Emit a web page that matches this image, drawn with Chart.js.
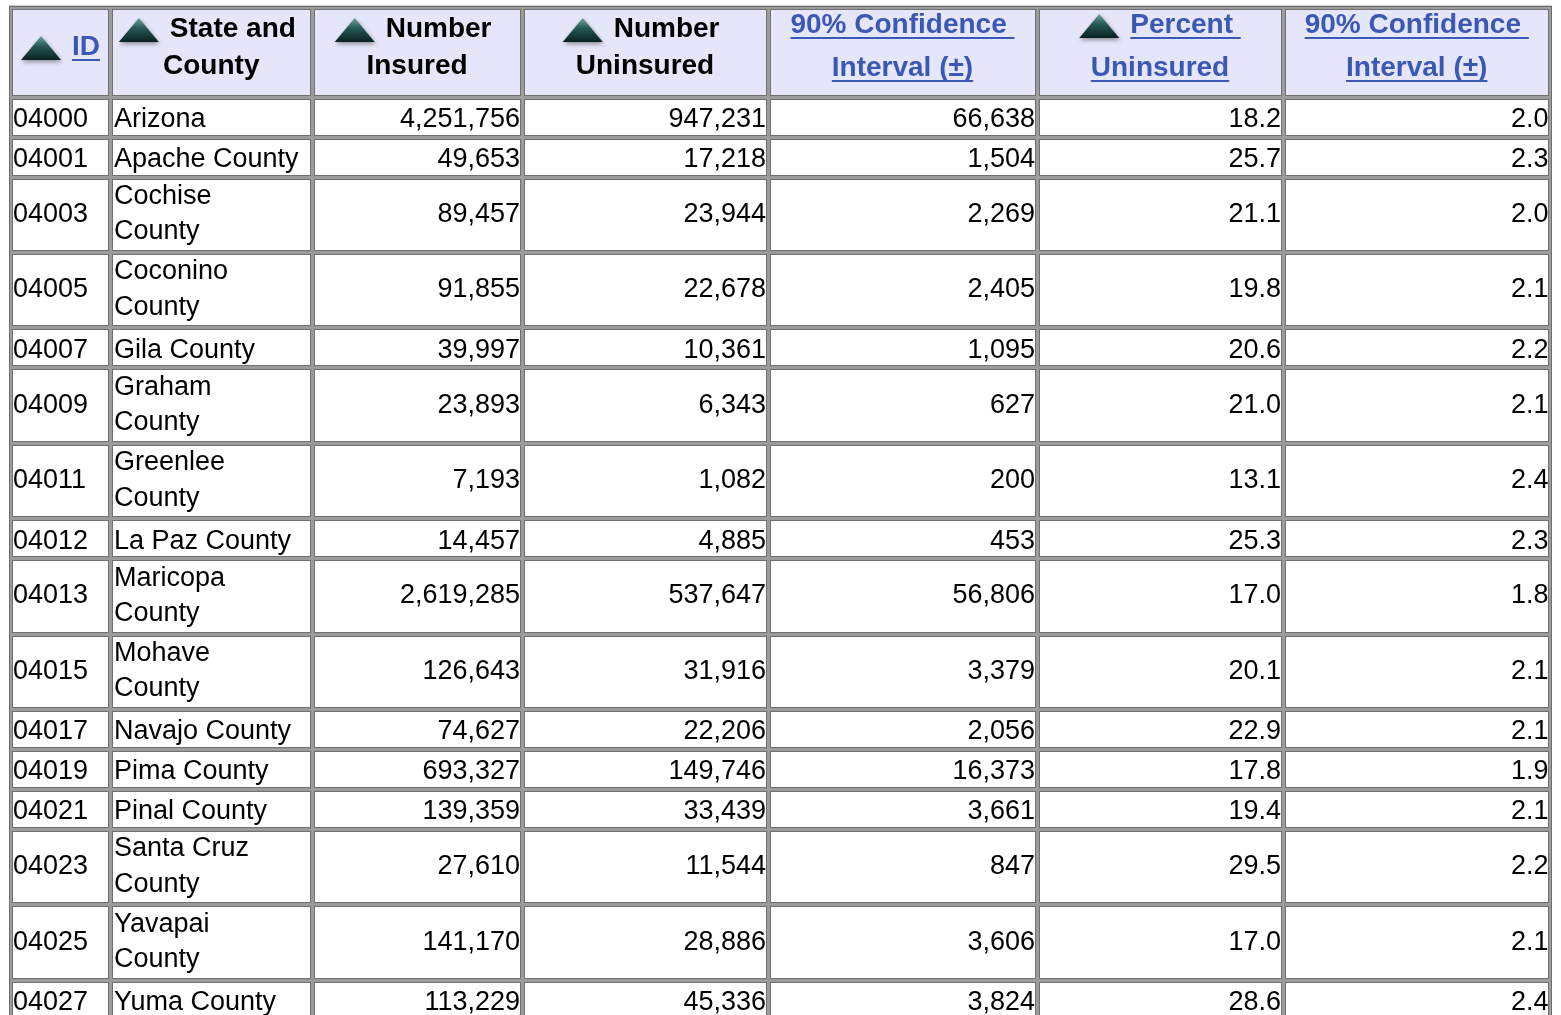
<!doctype html>
<html>
<head>
<meta charset="utf-8">
<title>Arizona - insured / uninsured by county</title>
<script src="https://cdn.jsdelivr.net/npm/chart.js"></script>
<style>
  html, body { margin: 0; padding: 0; background: #fff; }
  canvas { display: block; }
</style>
</head>
<body>
<canvas id="tbl" width="1561" height="1015"></canvas>
<script>
const ids = ['04000', '04001', '04003', '04005', '04007', '04009', '04011', '04012',
             '04013', '04015', '04017', '04019', '04021', '04023', '04025', '04027'];
const names = ['Arizona', 'Apache County', 'Cochise County', 'Coconino County', 'Gila County',
               'Graham County', 'Greenlee County', 'La Paz County', 'Maricopa County',
               'Mohave County', 'Navajo County', 'Pima County', 'Pinal County',
               'Santa Cruz County', 'Yavapai County', 'Yuma County'];
const numInsured = [4251756, 49653, 89457, 91855, 39997, 23893, 7193, 14457,
                    2619285, 126643, 74627, 693327, 139359, 27610, 141170, 113229];
const numUninsured = [947231, 17218, 23944, 22678, 10361, 6343, 1082, 4885,
                      537647, 31916, 22206, 149746, 33439, 11544, 28886, 45336];
const numUninsuredCI = [66638, 1504, 2269, 2405, 1095, 627, 200, 453,
                        56806, 3379, 2056, 16373, 3661, 847, 3606, 3824];
const pctUninsured = [18.2, 25.7, 21.1, 19.8, 20.6, 21.0, 13.1, 25.3,
                      17.0, 20.1, 22.9, 17.8, 19.4, 29.5, 17.0, 28.6];
const pctUninsuredCI = [2.0, 2.3, 2.0, 2.1, 2.2, 2.1, 2.4, 2.3,
                        1.8, 2.1, 2.1, 1.9, 2.1, 2.2, 2.1, 2.4];

// header text: line 1 / line 2, whether it has the sort arrow, whether it is a link
const headerLines = [
  ['ID'],
  ['State and ', 'County'],
  ['Number ', 'Insured'],
  ['Number ', 'Uninsured'],
  ['90% Confidence ', 'Interval (\u00b1)'],
  ['Percent ', 'Uninsured'],
  ['90% Confidence ', 'Interval (\u00b1)']
];
const headerArrow = [true, true, true, true, false, true, false];
const headerLink = [true, false, false, false, true, true, true];

// ---- layout ----
const W = 1561, H = 1015;
const colEdges = [10.5, 110.5, 312, 522, 768, 1037, 1283, 1550.5];
const headTop = 7, headBottom = 97;
const lineH = 35.4, rowPad = 4.6;
const nameWrap = 187;
const bodyFont = '27px "Liberation Sans", Arial, sans-serif';
const headFont = 'bold 28px "Liberation Sans", Arial, sans-serif';
const linkBlue = '#3a58b4';
const headBg = '#e6e6fa';

function fmtInt(v) { return v.toLocaleString('en-US'); }

function wrapText(ctx, text, maxW) {
  const words = text.split(' ');
  const lines = [];
  let cur = '';
  words.forEach(w => {
    const t = cur ? cur + ' ' + w : w;
    if (cur && ctx.measureText(t).width > maxW) { lines.push(cur); cur = w; }
    else cur = t;
  });
  if (cur) lines.push(cur);
  return lines;
}

// the little sort arrow (dark teal, soft shadow)
function drawArrow(ctx, x, base) {
  ctx.save();
  const g = ctx.createLinearGradient(0, base - 19, 0, base + 6);
  g.addColorStop(0, '#6fa39b');
  g.addColorStop(0.4, '#265a56');
  g.addColorStop(1, '#071d1d');
  ctx.shadowColor = 'rgba(0,0,0,0.4)';
  ctx.shadowBlur = 4;
  ctx.shadowOffsetX = 1;
  ctx.shadowOffsetY = 2;
  ctx.fillStyle = g;
  ctx.beginPath();
  ctx.moveTo(x + 20, base - 19);
  ctx.lineTo(x + 40, base + 5);
  ctx.lineTo(x + 0, base + 5);
  ctx.closePath();
  ctx.fill();
  ctx.restore();
}

const tablePlugin = {
  id: 'tableCells',
  afterDraw(chart) {
    const ctx = chart.ctx;
    const X = v => chart.scales.x.getPixelForValue(v);
    const Y = v => chart.scales.y.getPixelForValue(v);

    // wrap names, build row edges
    ctx.font = bodyFont;
    const nameLines = names.map(n => wrapText(ctx, n, nameWrap));
    const rowEdges = [headTop, headBottom];
    nameLines.forEach(l => rowEdges.push(rowEdges[rowEdges.length - 1] + rowPad + l.length * lineH));

    const x0 = X(colEdges[0]), x1 = X(colEdges[colEdges.length - 1]);
    const y0 = Y(rowEdges[0]), y1 = Y(rowEdges[rowEdges.length - 1]);

    // table frame / cell spacing
    ctx.fillStyle = '#9c9c9c';
    ctx.fillRect(x0 - 1.5, y0 - 1.5, x1 - x0 + 3, y1 - y0 + 3);
    ctx.strokeStyle = '#6e6e6e';
    ctx.lineWidth = 1;
    ctx.strokeRect(Math.round(x0 - 1.5) + 0.5, Math.round(y0 - 1.5) + 0.5,
                   Math.round(x1 - x0 + 2), Math.round(y1 - y0 + 2));

    // cells
    for (let r = 0; r < rowEdges.length - 1; r++) {
      for (let c = 0; c < colEdges.length - 1; c++) {
        const cx1 = Math.round(X(colEdges[c]) + 1.5), cx2 = Math.round(X(colEdges[c + 1]) - 1.5);
        const cy1 = Math.round(Y(rowEdges[r]) + 1.5), cy2 = Math.round(Y(rowEdges[r + 1]) - 1.5);
        ctx.fillStyle = r === 0 ? headBg : '#ffffff';
        ctx.fillRect(cx1, cy1, cx2 - cx1, cy2 - cy1);
        ctx.strokeStyle = '#707070';
        ctx.strokeRect(cx1 + 0.5, cy1 + 0.5, cx2 - cx1 - 1, cy2 - cy1 - 1);
      }
    }

    // header text
    ctx.font = headFont;
    ctx.textBaseline = 'alphabetic';
    ctx.textAlign = 'left';
    headerLines.forEach((lines, c) => {
      const mid = (X(colEdges[c]) + X(colEdges[c + 1])) / 2;
      const link = headerLink[c];
      let bases;
      if (lines.length === 1) bases = [headTop + 48];
      else if (link) bases = [headTop + 26, headTop + 69];
      else bases = [headTop + 30, headTop + 67];
      lines.forEach((txt, i) => {
        const arrow = i === 0 && headerArrow[c];
        const tw = ctx.measureText(txt).width;
        const total = tw + (arrow ? 51 : 0);
        let x = mid - total / 2;
        const b = Y(bases[i]);
        if (arrow) { drawArrow(ctx, x, b); x += 51; }
        ctx.fillStyle = link ? linkBlue : '#000000';
        ctx.fillText(txt, x, b);
        if (link) ctx.fillRect(x, b + 4, tw, 2);
      });
    });

    // body text
    ctx.font = bodyFont;
    ctx.fillStyle = '#000000';
    const cols = [
      null, null,
      numInsured.map(fmtInt),
      numUninsured.map(fmtInt),
      numUninsuredCI.map(fmtInt),
      pctUninsured.map(v => v.toFixed(1)),
      pctUninsuredCI.map(v => v.toFixed(1))
    ];
    for (let r = 0; r < ids.length; r++) {
      const top = rowEdges[r + 1], bot = rowEdges[r + 2];
      const n = nameLines[r].length;
      const base = (top + bot) / 2 + 10 - (n - 1) * 3;
      ctx.textAlign = 'left';
      ctx.fillText(ids[r], X(colEdges[0] + 2.5), Y(base));
      nameLines[r].forEach((l, i) => {
        ctx.fillText(l, X(colEdges[1] + 3.5), Y(base + (i - (n - 1) / 2) * lineH));
      });
      ctx.textAlign = 'right';
      for (let c = 2; c < cols.length; c++) {
        ctx.fillText(cols[c][r], X(colEdges[c + 1] - 2), Y(base));
      }
    }
  }
};

new Chart(document.getElementById('tbl'), {
  type: 'scatter',
  data: { datasets: [] },
  options: {
    responsive: false,
    animation: false,
    events: [],
    devicePixelRatio: 1,
    layout: { padding: 0 },
    plugins: { legend: { display: false }, tooltip: { enabled: false } },
    scales: {
      x: { type: 'linear', min: 0, max: W, display: false },
      y: { type: 'linear', min: 0, max: H, reverse: true, display: false }
    }
  },
  plugins: [tablePlugin]
});
</script>
</body>
</html>
